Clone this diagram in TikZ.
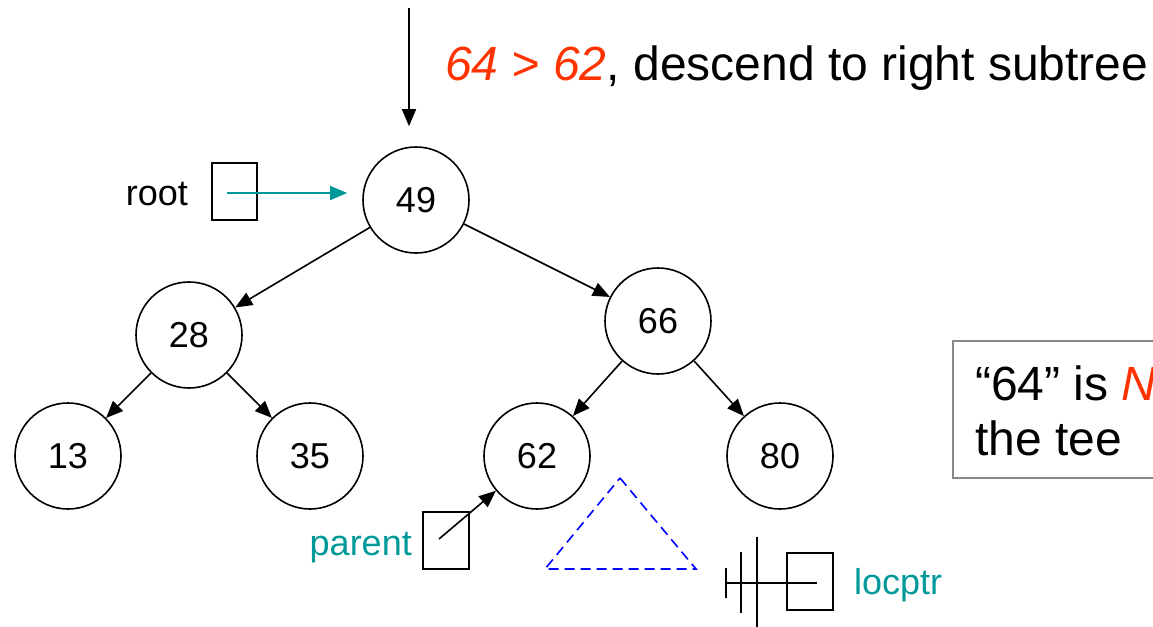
\documentclass[tikz,border=0pt]{standalone}
\usepackage{fontspec}
\setmainfont{Liberation Sans}
\usetikzlibrary{arrows.meta}
\definecolor{tealc}{HTML}{009999}
\definecolor{hot}{HTML}{FF3300}
\definecolor{boxgray}{HTML}{888888}
\tikzset{
  bnode/.style={circle, draw, line width=1.6pt, minimum size=106pt, inner sep=0pt, font=\fontsize{36}{40}\selectfont},
  tip/.style={-{Triangle[length=17pt,width=14pt]}},
  edge/.style={line width=1.6pt, tip},
  lbl/.style={font=\fontsize{36}{40}\selectfont, inner sep=0pt},
  big/.style={font=\fontsize{48}{55}\selectfont, inner sep=0pt},
  ptrbox/.style={draw, line width=1.6pt}
}
\begin{document}
\begin{tikzpicture}[x=1pt,y=-1pt]
\clip (0,0) rectangle (1153,626);
% tree nodes
\node[bnode] (n49) at (416,200) {49};
\node[bnode] (n28) at (189,335) {28};
\node[bnode] (n66) at (658,321) {66};
\node[bnode] (n13) at (68,456) {13};
\node[bnode] (n35) at (310,456) {35};
\node[bnode] (n62) at (537,456) {62};
\node[bnode] (n80) at (780,456) {80};
\draw[edge] (n49) -- (n28);
\draw[edge] (n49) -- (n66);
\draw[edge] (n28) -- (n13);
\draw[edge] (n28) -- (n35);
\draw[edge] (n66) -- (n62);
\draw[edge] (n66) -- (n80);
% top arrow and title
\coordinate (topstart) at (409,8);
\draw[edge, shorten >=20pt] (topstart) -- (topstart |- n49.north);
\node[big, anchor=base west] (title) at (445,80) {\textcolor{hot}{\textit{64 > 62}}, descend to right subtree};
% root pointer
\node[lbl, anchor=base east] (rootlbl) at (188,205) {root};
\node[ptrbox, minimum width=45pt, minimum height=57pt, inner sep=0pt] (rootbox) at (234.5,191.5) {};
\coordinate (rootptr) at (227,193);
\draw[line width=1.6pt, tealc, tip, shorten >=15pt] (rootptr) -- (rootptr -| n49.west);
% parent pointer
\node[lbl, anchor=base east, text=tealc] (parlbl) at (412,555) {parent};
\node[ptrbox, minimum width=46pt, minimum height=57pt, inner sep=0pt] (parbox) at (446,540.5) {};
\coordinate (parptr) at (439,539);
\draw[edge] (parptr) -- (n62);
% dashed subtree triangle
\draw[blue, line width=1.6pt, dash pattern=on 10pt off 6pt] (620,478) -- (696,569) -- (545,569) -- cycle;
% locptr null pointer
\node[ptrbox, minimum width=46pt, minimum height=57pt, inner sep=0pt] (locbox) at (810,581.5) {};
\coordinate (locptr) at (817,583);
\coordinate (gnd) at (726,583);
\draw[line width=1.6pt] (locptr) -- (gnd);
\draw[line width=1.6pt] (726,568) -- (726,598);
\draw[line width=1.6pt] (741,552) -- (741,613);
\draw[line width=1.6pt] (757,537) -- (757,630);
\node[lbl, anchor=base west, text=tealc] (loclbl) at (854,594) {locptr};
% note box
\draw[boxgray, line width=1.6pt] (953,341) rectangle (1170,478);
\node[big, anchor=base west] (note1) at (975,400) {“64” is \textcolor{hot}{\textit{N}}};
\node[big, anchor=base west] (note2) at (975,455) {the tee};
\end{tikzpicture}
\end{document}
